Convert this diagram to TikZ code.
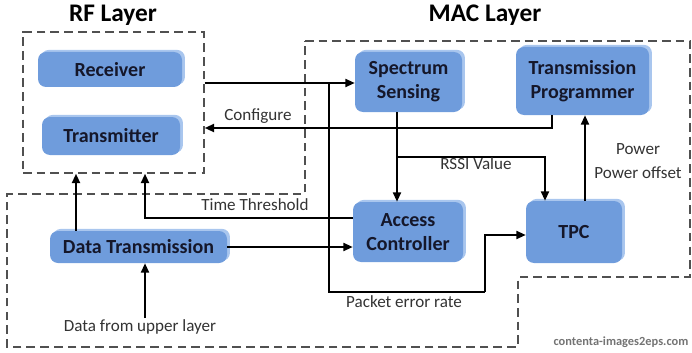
\documentclass[tikz,border=0pt]{standalone}
\usepackage{fontspec}
\setmainfont{Carlito}
\usetikzlibrary{arrows.meta,calc,shadows}
\definecolor{blk}{HTML}{6F9CDC}
\definecolor{blklight}{HTML}{A9C6EE}
\definecolor{dashc}{HTML}{505050}
\definecolor{txt}{HTML}{15172A}
\begin{document}
\begin{tikzpicture}[x=0.75pt,y=-0.75pt,
  blkbox/.style={rounded corners=6pt, fill=blk, text=txt, align=center, inner sep=0pt,
    font=\bfseries\fontsize{15}{18}\selectfont,
    general shadow={fill=blklight, rounded corners=6pt, shadow xshift=2.2pt, shadow yshift=1.6pt}},
  dashbox/.style={draw=dashc, line width=1.1pt, dash pattern=on 6.5pt off 3.8pt},
  conn/.style={draw=black, line width=1.4pt, -{Triangle[length=7pt,width=6pt]}},
  plain/.style={draw=black, line width=1.4pt},
  lbl/.style={text=black!80, font=\fontsize{12.8}{15}\selectfont, inner sep=1pt},
  ttl/.style={text=black, font=\bfseries\fontsize{19}{22}\selectfont, inner sep=0pt}]
\useasboundingbox (0,0) rectangle (692,353);

% titles
\node[ttl] (rft) at (113,15) {RF Layer};
\node[ttl] (mact) at (485,15) {MAC Layer};

% layer boundaries
\node[dashbox, minimum width=135.75pt, minimum height=105.75pt] (rf) at (113.5,102.5) {};
\draw[dashbox] (305,41) -- (690,41) -- (690,277) -- (518,277) -- (518,347) -- (7,347) -- (7,194) -- (305,194) -- cycle;

% blocks
\node[blkbox, minimum width=108pt, minimum height=26.25pt] (rx) at (110,69.5) {Receiver};
\node[blkbox, minimum width=103.5pt, minimum height=28.5pt] (tx) at (111,136) {Transmitter};
\node[blkbox, minimum width=80.25pt, minimum height=45pt] (ss) at (408.5,82) {Spectrum\\Sensing};
\node[blkbox, minimum width=99.75pt, minimum height=51pt] (tp) at (582.5,81) {Transmission\\Programmer};
\node[blkbox, minimum width=82.5pt, minimum height=45pt] (ac) at (408,232) {Access\\Controller};
\node[blkbox, minimum width=72pt, minimum height=46.5pt] (tpc) at (574,232) {TPC};
\node[blkbox, minimum width=132.75pt, minimum height=24pt] (dt) at (138.5,247) {Data Transmission};

% helper points
\path (rf.east |- ss.west) ++(0,1) coordinate (rfo);
\path (rfo) ++(124,0) coordinate (j1);
\path (j1) ++(0,209) coordinate (j2);
\path (tpc.west) ++(0,3) coordinate (tpcin);
\path (j2) ++(156,0) coordinate (p1);
\path (tp.south) ++(-30.5,0) coordinate (tpo);
\path (rf.east) ++(0,25.5) coordinate (cfg);
\path (ss.south) ++(-11.5,0) coordinate (s1);
\path (s1) ++(0,45) coordinate (s2);
\path (tpc.north) ++(-29,0) coordinate (t1);
\path (tpc.north) ++(11,0) coordinate (t2);
\path (ac.west) ++(0,-14) coordinate (a1);
\path (rf.south) ++(31.5,0) coordinate (r1);
\path (dt.north) ++(-62.5,0) coordinate (d1);
\path (dt.south) ++(6.5,0) coordinate (d2);

% connectors
\draw[conn] (rfo) -- (rfo -| ss.west);
\draw[plain] (j1) -- (j2) -- (p1);
\draw[conn] (p1) |- (tpcin);
\draw[conn] (tpo) |- (cfg);
\draw[conn] (s1) -- (s1 |- ac.north);
\draw[conn] (s2) -| (t1);
\draw[conn] (t2) -- (t2 |- tp.south);
\draw[conn] (a1) -| (r1);
\draw[conn] (d1) -- (d1 |- rf.south);
\draw[conn] (dt.east) -- (dt.east -| ac.west);

% labels
\node[lbl] (up) at (140,327) {Data from upper layer};
\draw[conn] (d2 |- up.north) -- (d2);
\node[lbl] at (258,116) {Configure};
\node[lbl] at (476,164) {RSSI Value};
\node[lbl] at (638,149) {Power};
\node[lbl] at (638,173) {Power offset};
\node[lbl] at (255,205) {Time Threshold};
\node[lbl] at (404,302) {Packet error rate};
\node[text=black!55, font=\bfseries\fontsize{9.3}{10}\selectfont, inner sep=0pt] at (621,342) {contenta-images2eps.com};
\end{tikzpicture}
\end{document}
